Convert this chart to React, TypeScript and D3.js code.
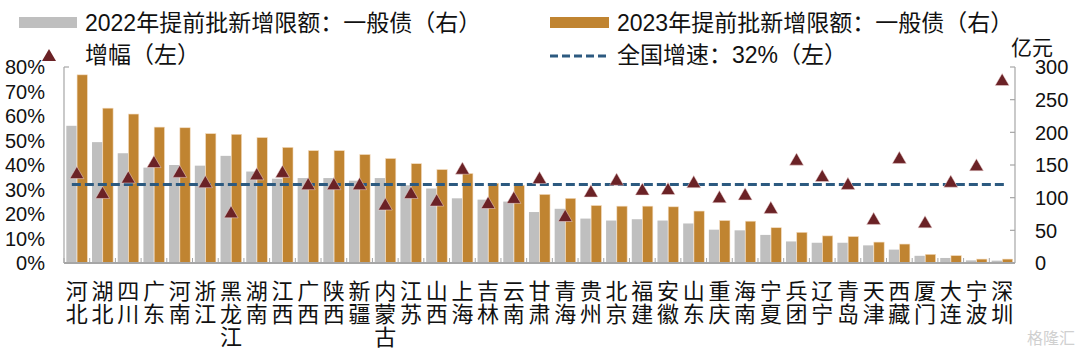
import React, { useEffect, useRef } from 'react';
import * as d3 from 'd3';

const provinces = ['河北', '湖北', '四川', '广东', '河南', '浙江', '黑龙江', '湖南', '江西', '广西', '陕西', '新疆', '内蒙古', '江苏', '山西', '上海', '吉林', '云南', '甘肃', '青海', '贵州', '北京', '福建', '安徽', '山东', '重庆', '海南', '宁夏', '兵团', '辽宁', '青岛', '天津', '西藏', '厦门', '大连', '宁波', '深圳'];
const quota2022 = [210, 185, 168, 146, 150, 149, 164, 140, 129, 130, 130, 126, 130, 119, 114, 99, 97, 94, 78, 83, 68, 65, 67, 65, 60.5, 51, 50, 43, 33, 31, 31, 27, 20.5, 11, 7.7, 4, 3.6];
const quota2023 = [288, 237, 228, 208, 207, 198, 197, 192, 177, 172, 172, 166, 160, 152, 143, 137, 122, 119, 105, 99, 88, 87, 87, 86, 79.5, 65, 64, 54, 47, 41.5, 40.5, 32, 29, 13.3, 11.3, 6, 6];
const growth = [36.5, 28.4, 34.7, 41, 37, 32.8, 20.5, 36, 37, 32, 32, 32, 23.7, 28.4, 25.3, 38.3, 24.3, 26.4, 34.5, 19, 29, 33.8, 29.8, 30, 32.8, 26.7, 27.8, 22.3, 42, 35.3, 32.1, 17.8, 42.7, 16.4, 33, 39.7, 74.5];
const nationalGrowth = 32;
const leftTicks = [0, 10, 20, 30, 40, 50, 60, 70, 80];
const rightTicks = [0, 50, 100, 150, 200, 250, 300];

const GRAY = '#bfbfbf';
const ORANGE = '#c08431';
const RED = '#6b2226';
const BLUE = '#2c5a80';
const AXIS = '#a6a6a6';
const FONT = '"Liberation Sans", Arial, "Noto Sans CJK SC", sans-serif';

export default function App() {
  const ref = useRef<SVGSVGElement>(null);

  useEffect(() => {
    const svg = d3.select(ref.current);
    svg.selectAll('*').remove();

    const left = 64, right = 1015, top = 67, bottom = 263;

    const x = d3.scaleBand().domain(provinces).range([left, right]).paddingInner(0.18).paddingOuter(0.09);
    const sub = d3.scaleBand().domain(['a', 'b']).range([0, x.bandwidth()]).paddingInner(0.04);
    const yL = d3.scaleLinear().domain([0, 80]).range([bottom, top]);
    const yR = d3.scaleLinear().domain([0, 300]).range([bottom, top]);

    const g = svg.append('g').style('font-family', FONT);

    // bars
    const bars = g.append('g');
    provinces.forEach((p, i) => {
      bars.append('rect')
        .attr('x', x(p)! + sub('a')!)
        .attr('y', yR(quota2022[i]))
        .attr('width', sub.bandwidth())
        .attr('height', bottom - yR(quota2022[i]))
        .attr('fill', GRAY);
      bars.append('rect')
        .attr('x', x(p)! + sub('b')!)
        .attr('y', yR(quota2023[i]))
        .attr('width', sub.bandwidth())
        .attr('height', bottom - yR(quota2023[i]))
        .attr('fill', ORANGE)
        .attr('stroke', '#f3dcc0')
        .attr('stroke-width', 0.6);
    });

    // axes
    g.append('line').attr('x1', left).attr('x2', left).attr('y1', top).attr('y2', bottom).attr('stroke', AXIS).attr('stroke-width', 1.2);
    g.append('line').attr('x1', left).attr('x2', left + 5).attr('y1', top).attr('y2', top).attr('stroke', AXIS).attr('stroke-width', 1.2);
    g.append('line').attr('x1', right).attr('x2', right).attr('y1', top).attr('y2', bottom).attr('stroke', AXIS).attr('stroke-width', 1.2);
    rightTicks.forEach(t => {
      g.append('line').attr('x1', right - 5).attr('x2', right).attr('y1', yR(t)).attr('y2', yR(t)).attr('stroke', AXIS).attr('stroke-width', 1.2);
    });
    g.append('line').attr('x1', left).attr('x2', right).attr('y1', bottom).attr('y2', bottom).attr('stroke', AXIS).attr('stroke-width', 2);
    provinces.forEach(p => {
      const bx = x(p)! - (x.step() - x.bandwidth()) / 2;
      g.append('line').attr('x1', bx).attr('x2', bx).attr('y1', bottom).attr('y2', bottom - 5).attr('stroke', AXIS).attr('stroke-width', 1);
    });

    // tick labels
    g.append('g').selectAll('text').data(leftTicks).enter().append('text')
      .attr('x', 45).attr('y', d => yL(d)).attr('dy', '0.36em')
      .attr('text-anchor', 'end').attr('font-size', 20).attr('fill', '#111')
      .text(d => `${d}%`);
    g.append('g').selectAll('text').data(rightTicks).enter().append('text')
      .attr('x', 1035).attr('y', d => yR(d)).attr('dy', '0.36em')
      .attr('font-size', 20).attr('fill', '#111')
      .text(d => d);
    g.append('text').attr('x', 1032).attr('y', 55).attr('text-anchor', 'middle')
      .attr('font-size', 21).attr('fill', '#111').text('亿元');

    // national growth line
    g.append('line')
      .attr('x1', x(provinces[0])! + x.bandwidth() / 2 - 5)
      .attr('x2', x(provinces[provinces.length - 1])! + x.bandwidth() / 2 + 2)
      .attr('y1', yL(nationalGrowth)).attr('y2', yL(nationalGrowth))
      .attr('stroke', BLUE).attr('stroke-width', 3).attr('stroke-dasharray', '9 4');

    // triangles
    const tri = d3.symbol().type(d3.symbolTriangle).size(85);
    g.append('g').selectAll('path').data(growth).enter().append('path')
      .attr('d', tri)
      .attr('transform', (d, i) => `translate(${x(provinces[i])! + x.bandwidth() / 2},${yL(d) + 1})`)
      .attr('fill', RED).attr('stroke', '#f0d8d8').attr('stroke-width', 0.5);

    // x labels, vertical characters
    const lab = g.append('g');
    provinces.forEach(p => {
      const cx = x(p)! + x.bandwidth() / 2;
      p.split('').forEach((ch, j) => {
        lab.append('text').attr('text-anchor', 'middle').attr('font-size', 22).attr('fill', '#111')
          .attr('x', cx).attr('y', 299 + j * 23).text(ch);
      });
    });

    // legend
    const lg = g.append('g').attr('font-size', 23).attr('fill', '#111');
    lg.append('rect').attr('x', 19).attr('y', 17).attr('width', 58).attr('height', 11).attr('fill', GRAY);
    lg.append('text').attr('x', 85).attr('y', 31).text('2022年提前批新增限额：一般债（右）');
    lg.append('path').attr('d', tri).attr('transform', 'translate(49,57)').attr('fill', RED);
    lg.append('text').attr('x', 85).attr('y', 63).text('增幅（左）');
    lg.append('rect').attr('x', 550).attr('y', 17).attr('width', 59).attr('height', 11).attr('fill', ORANGE);
    lg.append('text').attr('x', 617).attr('y', 31).text('2023年提前批新增限额：一般债（右）');
    lg.append('line').attr('x1', 550).attr('x2', 609).attr('y1', 56).attr('y2', 56)
      .attr('stroke', BLUE).attr('stroke-width', 3).attr('stroke-dasharray', '8 4');
    lg.append('text').attr('x', 617).attr('y', 63).text('全国增速：32%（左）');

    // watermark
    g.append('text').attr('x', 1075).attr('y', 344).attr('text-anchor', 'end')
      .attr('font-size', 16).attr('fill', '#d0d0d0').text('格隆汇');
  }, []);

  return (
    <div style={{ position: 'absolute', left: 0, top: 0, background: '#fff' }}>
      <svg ref={ref} width={1080} height={354} style={{ display: 'block' }} />
    </div>
  );
}
